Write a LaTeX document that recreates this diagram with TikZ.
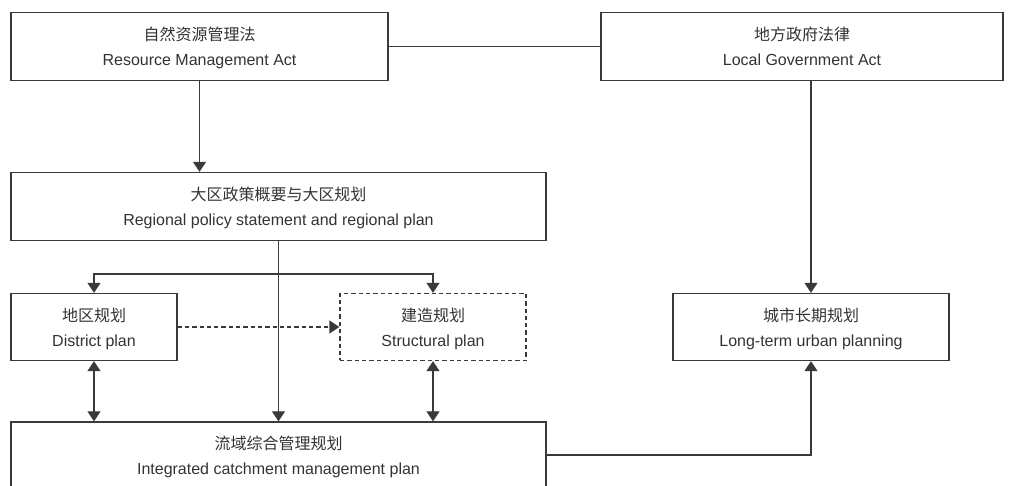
\documentclass[tikz,border=0pt]{standalone}
\usepackage{fontspec}
\setmainfont{Liberation Sans}
\newfontfamily\cjk{Noto Sans CJK SC}
\usetikzlibrary{arrows.meta}

\definecolor{linegray}{HTML}{3A3A3A}
\definecolor{textgray}{HTML}{333333}

\begin{document}
\begin{tikzpicture}[x=1pt, y=-1pt, >={Triangle[length=10pt, width=13pt]},
    box/.style={draw=linegray, line width=1.3pt, rectangle, inner sep=0pt,
      align=center, text=textgray, text depth=0pt, font=\fontsize{16}{25}\selectfont},
    dbox/.style={box, dash pattern=on 4.3pt off 3pt},
    conn/.style={draw=linegray, line width=1.3pt}]
  \useasboundingbox (0,0) rectangle (1013,486);

  % Gesetze oben
  \node[box, minimum width=377pt, minimum height=68pt] (rma) at (199.5,46.5)
    {{\cjk 自然资源管理法}\\Resource Management Act};
  \node[box, minimum width=402pt, minimum height=68pt] (lga) at (802,46.5)
    {{\cjk 地方政府法律}\\Local Government Act};

  % Regionalebene
  \node[box, minimum width=535pt, minimum height=68pt] (reg) at (278.5,206.5)
    {{\cjk 大区政策概要与大区规划}\\Regional policy statement and regional plan};

  % Planungsebene
  \node[box, minimum width=166pt, minimum height=67pt] (dist) at (94,327)
    {{\cjk 地区规划}\\District plan};
  \node[dbox, minimum width=186pt, minimum height=67pt] (struc) at (433,327)
    {{\cjk 建造规划}\\Structural plan};
  \node[box, minimum width=276pt, minimum height=67pt] (longt) at (811,327)
    {{\cjk 城市长期规划}\\Long-term urban planning};

  % unten, vom Rand abgeschnitten
  \node[box, minimum width=535pt, minimum height=66pt] (icmp) at (278.5,455)
    {{\cjk 流域综合管理规划}\\Integrated catchment management plan};

  \coordinate (split) at (278.5,274);

  % Verbindungen
  \draw[conn] (rma.east) -- (lga.west);
  \draw[conn, ->] (rma.south) -- (rma.south |- reg.north);
  \draw[conn, ->] (lga.south -| longt.north) -- (longt.north);
  \draw[conn, ->] (reg.south) -- (icmp.north);
  \draw[conn, ->] (split) -| (dist.north);
  \draw[conn, ->] (split) -| (struc.north);
  \draw[conn, dash pattern=on 4.3pt off 3pt, ->] (dist.east) -- (struc.west);
  \draw[conn, <->] (dist.south) -- (dist.south |- icmp.north);
  \draw[conn, <->] (struc.south) -- (struc.south |- icmp.north);
  \draw[conn, ->] (icmp.east) -| (longt.south);
\end{tikzpicture}
\end{document}
